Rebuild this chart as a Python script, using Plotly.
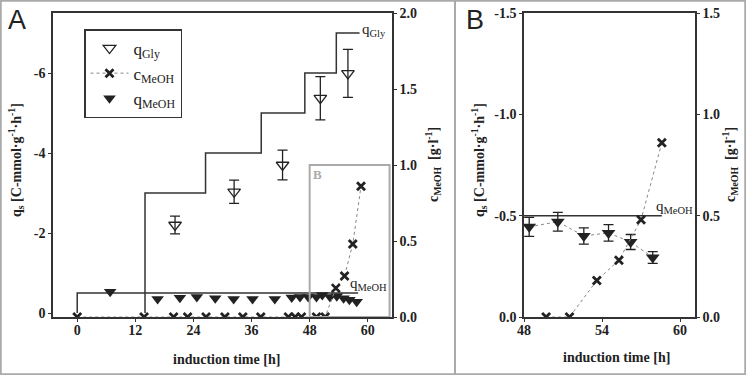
import plotly.graph_objects as go

# ---------------- Panel A data ----------------
gly_step_t = [14, 14, 26.5, 38, 47, 53.5, 58.3]
gly_step_q = [0, -3, -4, -5, -6, -7, -7]
meoh_step_t = [0, 0, 58]
meoh_step_q = [0, -0.5, -0.5]

gly_t = [20.2, 32.4, 42.4, 50.2, 55.9]
gly_q = [-2.2, -3.03, -3.7, -5.37, -5.99]
gly_err = [0.22, 0.29, 0.37, 0.54, 0.6]

cmeoh_t = [0, 13.8, 19.9, 22.8, 26.6, 30.5, 34.2, 37.9, 43.6, 45.0, 46.3, 49.4, 51.2, 53.4, 55.2, 56.9, 58.6]
cmeoh_c = [0, 0, 0, 0, 0, 0, 0, 0, 0, 0, 0, 0, 0, 0.19, 0.27, 0.48, 0.86]

qmeoh_t = [6.8, 16.6, 21.2, 24.7, 28.5, 32.3, 36.2, 40.8, 44.3, 46.0, 47.7, 49.4, 50.6, 52.2, 53.6, 55.0, 56.2, 57.7]
qmeoh_q = [-0.53, -0.35, -0.38, -0.4, -0.37, -0.35, -0.35, -0.35, -0.39, -0.4, -0.4, -0.4, -0.45, -0.4, -0.42, -0.37, -0.33, -0.28]

# ---------------- Panel B data ----------------
b_step_t = [48, 58.6]
b_step_q = [-0.5, -0.5]
b_qmeoh_t = [48.4, 50.6, 52.6, 54.5, 56.2, 57.9]
b_qmeoh_q = [-0.445, -0.47, -0.40, -0.415, -0.37, -0.294]
b_qmeoh_err = [0.047, 0.046, 0.04, 0.041, 0.037, 0.029]
b_cmeoh_t = [49.7, 51.5, 53.6, 55.3, 57.0, 58.6]
b_cmeoh_c = [0, 0, 0.18, 0.28, 0.48, 0.86]

xticks_a = [0, 12, 24, 36, 48, 60]
yticks_a_left = [-6, -4, -2, 0]
yticks_a_right = [0, 0.5, 1.0, 1.5, 2.0]
xticks_b = [48, 54, 60]
yticks_b_left = [-1.5, -1.0, -0.5, 0.0]
yticks_b_right = [0, 0.5, 1.0, 1.5]

W, H = 746, 375
BLK = "#222222"
LINE = "#333333"
GRAY = "#aaaaaa"
tickfont = dict(family="Liberation Serif", size=14, color=BLK, weight="bold")

def px(x):
    return x / W

def py(y):
    return 1 - y / H

fig = go.Figure()

# Panel A traces
fig.add_trace(go.Scatter(x=gly_step_t, y=gly_step_q, mode="lines", line=dict(color=LINE, width=1.5, shape="hv"),
                         xaxis="x", yaxis="y", showlegend=False, hoverinfo="skip"))
fig.add_trace(go.Scatter(x=meoh_step_t, y=meoh_step_q, mode="lines", line=dict(color=LINE, width=1.5, shape="hv"),
                         xaxis="x", yaxis="y", showlegend=False, hoverinfo="skip"))
fig.add_trace(go.Scatter(x=gly_t, y=gly_q, mode="markers", name="q<sub>Gly</sub>",
                         marker=dict(symbol="triangle-down-open", size=11, color=BLK, line=dict(width=1.3)),
                         error_y=dict(type="data", array=gly_err, color=BLK, thickness=1.3, width=5),
                         xaxis="x", yaxis="y"))
fig.add_trace(go.Scatter(x=cmeoh_t, y=cmeoh_c, mode="lines+markers", name="c<sub>MeOH</sub>",
                         line=dict(color="#888888", width=1, dash="dot"),
                         marker=dict(symbol="x-thin", size=8, color=BLK, line=dict(width=2.8, color=BLK)),
                         xaxis="x", yaxis="y2"))
fig.add_trace(go.Scatter(x=qmeoh_t, y=qmeoh_q, mode="markers", name="q<sub>MeOH</sub>",
                         marker=dict(symbol="triangle-down", size=11, color=BLK),
                         xaxis="x", yaxis="y"))

# Panel B traces
fig.add_trace(go.Scatter(x=b_step_t, y=b_step_q, mode="lines", line=dict(color=LINE, width=1.5),
                         xaxis="x2", yaxis="y3", showlegend=False, hoverinfo="skip"))
fig.add_trace(go.Scatter(x=b_qmeoh_t, y=b_qmeoh_q, mode="lines+markers",
                         line=dict(color="#888888", width=1, dash="dot"),
                         marker=dict(symbol="triangle-down", size=12, color=BLK),
                         error_y=dict(type="data", array=b_qmeoh_err, color=BLK, thickness=1.3, width=5),
                         xaxis="x2", yaxis="y3", showlegend=False))
fig.add_trace(go.Scatter(x=b_cmeoh_t, y=b_cmeoh_c, mode="lines+markers",
                         line=dict(color="#888888", width=1, dash="dot"),
                         marker=dict(symbol="x-thin", size=8, color=BLK, line=dict(width=2.8, color=BLK)),
                         xaxis="x2", yaxis="y4", showlegend=False))

ydom = [py(317), py(13)]
axcommon = dict(showline=True, linecolor=LINE, linewidth=1.5, showgrid=False, zeroline=False,
                ticks="outside", ticklen=3, tickcolor=LINE, tickwidth=1.2, tickfont=tickfont,
                automargin=False)

fig.update_layout(
    width=W, height=H,
    margin=dict(l=0, r=0, t=0, b=0),
    paper_bgcolor="white", plot_bgcolor="white",
    xaxis=dict(domain=[px(53), px(392)], range=[-5, 65], tickvals=xticks_a,
               ticktext=[str(v) for v in xticks_a], anchor="y", mirror=True,
               ticklabelstandoff=-4, **axcommon),
    yaxis=dict(domain=ydom, range=[0.1, -7.5], tickvals=yticks_a_left,
               ticktext=[str(v) for v in yticks_a_left], anchor="x", side="left", **axcommon),
    yaxis2=dict(range=[0, 2], tickvals=yticks_a_right, ticktext=["%.1f" % v for v in yticks_a_right],
                overlaying="y", anchor="x", side="right", **axcommon),
    xaxis2=dict(domain=[px(524), px(695)], range=[48, 61.15], tickvals=xticks_b,
                ticktext=[str(v) for v in xticks_b], anchor="y3", mirror=True,
                ticklabelstandoff=-4, **axcommon),
    yaxis3=dict(domain=ydom, range=[0, -1.5], tickvals=yticks_b_left,
                ticktext=["%.1f" % v for v in yticks_b_left], anchor="x2", side="left", **axcommon),
    yaxis4=dict(range=[0, 1.5], tickvals=yticks_b_right, ticktext=["%.1f" % v for v in yticks_b_right],
                overlaying="y3", anchor="x2", side="right", **axcommon),
    legend=dict(x=px(84), y=py(29), xanchor="left", yanchor="top",
                bordercolor=LINE, borderwidth=1.5, bgcolor="white",
                font=dict(family="Liberation Serif", size=17, color=BLK),
                traceorder="normal", itemwidth=38),
    showlegend=True,
)

shapes = [
    dict(type="rect", xref="x", yref="y2", x0=48, x1=64.5, y0=0, y1=1.0,
         line=dict(color=GRAY, width=2)),
    dict(type="rect", xref="paper", yref="paper", x0=0.001, x1=0.999, y0=0.002, y1=0.998,
         line=dict(color=GRAY, width=2)),
    dict(type="line", xref="paper", yref="paper", x0=px(455), x1=px(455), y0=0, y1=1,
         line=dict(color=GRAY, width=2)),
]
fig.update_layout(shapes=shapes)

titlefont = dict(family="Liberation Serif", size=14, color=BLK, weight="bold")
qs_title = "q<sub>s</sub> [C-mmol·g<sup>-1</sup>·h<sup>-1</sup>]"
c_title = "c<sub>MeOH</sub>  [g·l<sup>-1</sup>]"

def pann(text, x, y, font, angle=0):
    return dict(text=text, xref="paper", yref="paper", x=px(x), y=py(y), xanchor="center", yanchor="middle",
                textangle=angle, showarrow=False, font=font)

ann = [
    pann("A", 17, 20, dict(family="Liberation Sans", size=27, color=BLK)),
    pann("B", 475, 20, dict(family="Liberation Sans", size=27, color=BLK)),
    pann(qs_title, 16, 160, titlefont, -90),
    pann(c_title, 433, 165, titlefont, -90),
    pann(qs_title, 479, 160, titlefont, -90),
    pann(c_title, 730, 165, titlefont, -90),
    pann("induction time [h]", 227, 359, titlefont),
    pann("induction time [h]", 616, 357, titlefont),
    dict(text="q<sub>Gly</sub>", xref="x", yref="y", x=58.3, y=-7, xanchor="left", yanchor="middle", yshift=3,
         showarrow=False, font=dict(family="Liberation Serif", size=15, color=BLK)),
    dict(text="q<sub>MeOH</sub>", xref="x", yref="y", x=56.0, y=-0.5, xanchor="left", yanchor="bottom", yshift=-2,
         showarrow=False, font=dict(family="Liberation Serif", size=15, color=BLK)),
    dict(text="q<sub>MeOH</sub>", xref="x2", yref="y3", x=61.15, y=-0.5, xanchor="right", yanchor="bottom", yshift=-2,
         showarrow=False, font=dict(family="Liberation Serif", size=15, color=BLK)),
    dict(text="B", xref="x", yref="y2", x=48.3, y=1.0, xanchor="left", yanchor="top",
         showarrow=False, font=dict(family="Liberation Serif", size=13, color=GRAY, weight="bold")),
]
fig.update_layout(annotations=ann)

fig.write_html("out.html", config={"displayModeBar": False},
               post_script="document.body.style.margin='0px';")
